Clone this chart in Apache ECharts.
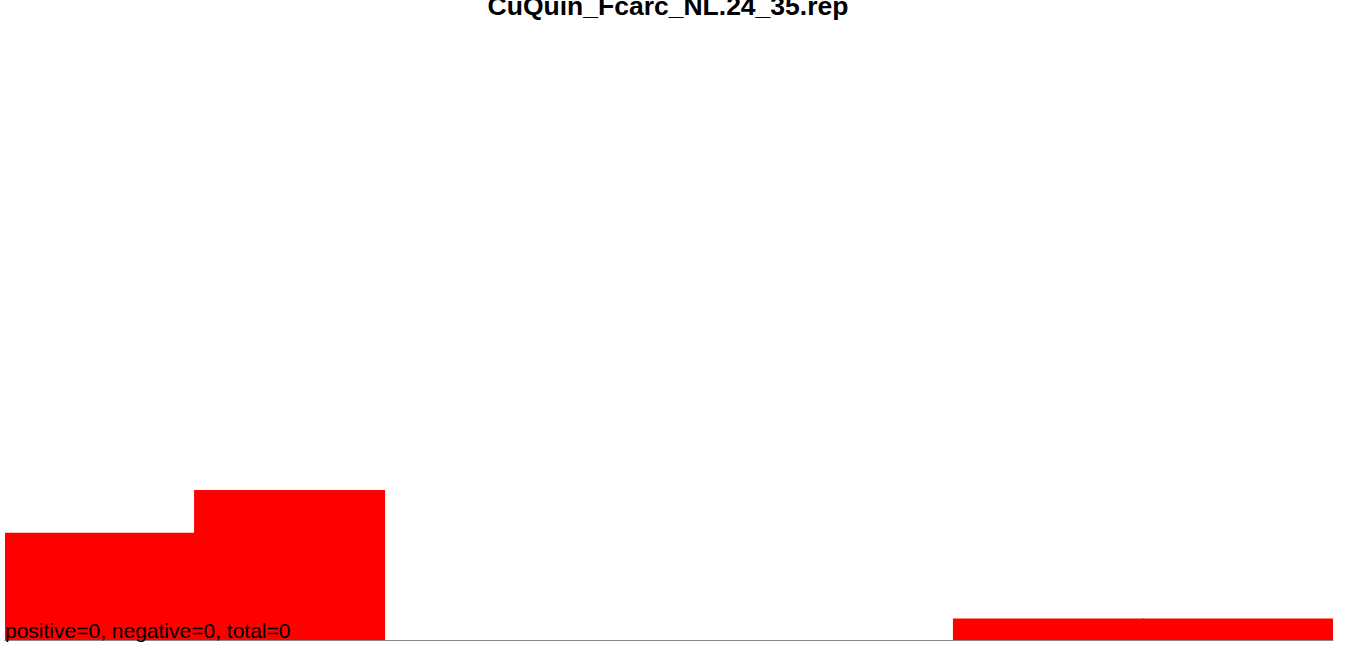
<!DOCTYPE html>
<html>
<head>
<meta charset="utf-8">
<script src="https://cdn.jsdelivr.net/npm/echarts@6/dist/echarts.min.js"></script>
<style>
  html, body { margin: 0; padding: 0; background: #fff; }
  #chart { width: 1353px; height: 655px; }
</style>
</head>
<body>
<div id="chart"></div>
<script>
(function() {
  var titleText = 'CuQuin_Fcarc_NL.24_35.rep';
  var bins = ['1', '2', '3', '4', '5', '6', '7'];
  var counts = [5, 7, 0, 0, 0, 1, 1];
  var yMax = 28;
  var footText = 'positive=0, negative=0, total=0';

  var chart = echarts.init(document.getElementById('chart'), null, { renderer: 'svg' });
  chart.setOption({
    animation: false,
    title: {
      text: titleText,
      left: 668,
      textAlign: 'center',
      top: -8,
      padding: 0,
      textStyle: { fontFamily: 'Liberation Sans, Arial, sans-serif', fontSize: 26.5, fontWeight: 'bold', color: '#000' }
    },
    grid: { left: 5, right: 20, top: 40, bottom: 15 },
    xAxis: {
      type: 'category',
      data: bins,
      axisLine: { lineStyle: { color: '#888', width: 1 } },
      axisTick: { show: false },
      axisLabel: { show: false }
    },
    yAxis: {
      type: 'value',
      min: 0,
      max: yMax,
      show: false,
      splitLine: { show: false }
    },
    series: [{
      type: 'bar',
      data: counts,
      barWidth: 191,
      itemStyle: { color: '#ff0000' }
    }],
    graphic: [{
      type: 'text',
      left: 5,
      top: 620,
      z: 100,
      style: {
        text: footText,
        fill: '#000',
        font: '21px "Liberation Sans", Arial, sans-serif'
      }
    }]
  });
  window.addEventListener('resize', function() { chart.resize(); });
})();
</script>
</body>
</html>
